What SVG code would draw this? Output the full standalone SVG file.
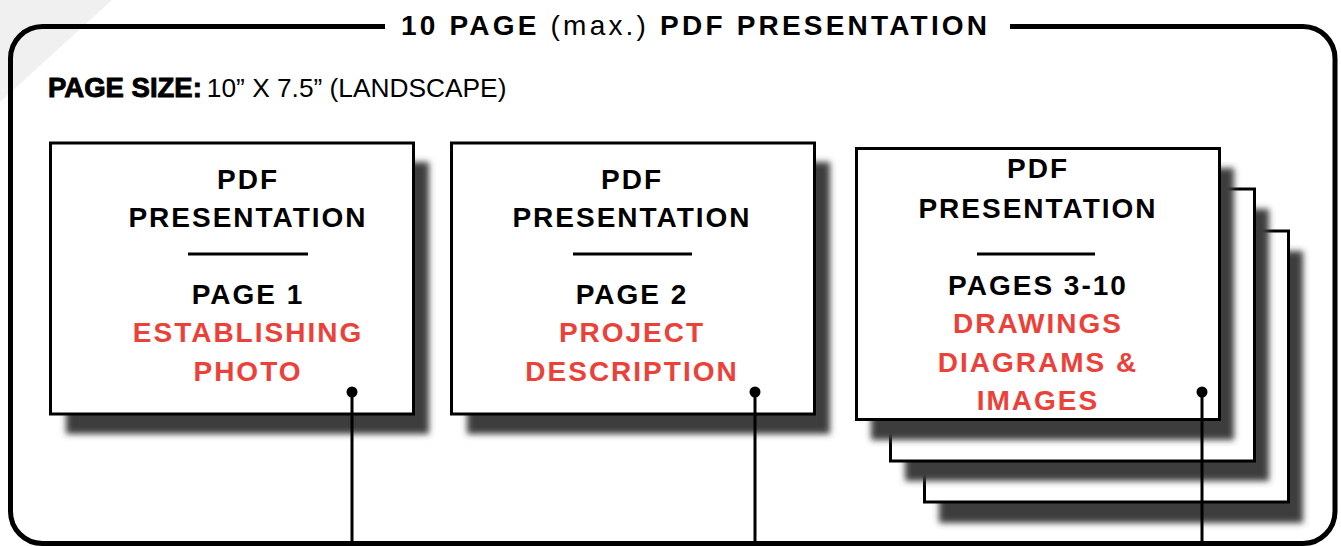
<svg xmlns="http://www.w3.org/2000/svg" width="1341" height="546" viewBox="0 0 1341 546">
  <style>
    .frame { fill: none; stroke: #000; stroke-width: 5; }
    .page { fill: #fff; stroke: #000; stroke-width: 3; }
    .shadow { fill: #3c3c3c; filter: url(#blur); }
    .t { font-family: "Liberation Sans", Arial, sans-serif; font-weight: bold; font-size: 28px; letter-spacing: 2px; text-anchor: middle; fill: #000; }
    .red { fill: #ec4139; }
    .div { stroke: #000; stroke-width: 3; }
    .title { font-family: "Liberation Sans", Arial, sans-serif; font-weight: bold; font-size: 28px; letter-spacing: 3.2px; fill: #000; }
    .conn line { stroke: #000; stroke-width: 3; }
    .conn circle { fill: #000; }
  </style>
  <defs>
    <filter id="blur" x="-10%" y="-10%" width="120%" height="120%">
      <feGaussianBlur stdDeviation="3"/>
    </filter>
  </defs>
  <rect width="1341" height="546" fill="#fff"/>
  <polygon points="0,0 112,0 0,102" fill="#f0f0f0"/>

  <g id="frame">
    <path class="frame" d="M385,26.5 H42.5 A32,32 0 0 0 10.5,58.5 V511.5 A32,32 0 0 0 42.5,543.5 H1303 A32,32 0 0 0 1335,511.5 V58.5 A32,32 0 0 0 1303,26.5 H1010"/>
    <text class="title" x="401" y="35">10 PAGE <tspan font-weight="normal">(max.)</tspan> PDF PRESENTATION</text>
  </g>

  <g id="page-size">
    <text x="48" y="97" font-family="'Liberation Sans', Arial, sans-serif" font-size="27.5" fill="#000"><tspan font-weight="bold" stroke="#000" stroke-width="0.9">PAGE SIZE:</tspan><tspan font-size="26.3" dx="5">10” X 7.5” (LANDSCAPE)</tspan></text>
  </g>

  <g id="page1">
    <rect class="shadow" x="66" y="162" width="363" height="272"/>
    <rect class="page" x="50.5" y="143" width="363" height="271"/>
    <text class="t" x="248" y="189">PDF</text>
    <text class="t" x="248" y="227">PRESENTATION</text>
    <line class="div" x1="188" y1="254" x2="308" y2="254"/>
    <text class="t" x="248" y="304">PAGE 1</text>
    <text class="t red" x="248" y="342">ESTABLISHING</text>
    <text class="t red" x="248" y="381">PHOTO</text>
  </g>

  <g id="page2">
    <rect class="shadow" x="467" y="162" width="363" height="272"/>
    <rect class="page" x="451.5" y="143" width="363" height="271"/>
    <text class="t" x="632" y="189">PDF</text>
    <text class="t" x="632" y="227">PRESENTATION</text>
    <line class="div" x1="573" y1="254" x2="692" y2="254"/>
    <text class="t" x="632" y="304">PAGE 2</text>
    <text class="t red" x="632" y="342">PROJECT</text>
    <text class="t red" x="632" y="381">DESCRIPTION</text>
  </g>

  <g id="pages3-10">
    <rect class="shadow" x="939" y="251" width="364" height="272"/>
    <rect class="page" x="924.5" y="231" width="364" height="271"/>
    <rect class="shadow" x="905" y="209" width="364" height="272"/>
    <rect class="page" x="890.5" y="189" width="364" height="272"/>
    <rect class="shadow" x="871" y="168" width="363" height="272"/>
    <rect class="page" x="856.5" y="148.5" width="363" height="271"/>
    <text class="t" x="1038" y="178">PDF</text>
    <text class="t" x="1038" y="218">PRESENTATION</text>
    <line class="div" x1="977" y1="254" x2="1095" y2="254"/>
    <text class="t" x="1038" y="295">PAGES 3-10</text>
    <text class="t red" x="1038" y="333">DRAWINGS</text>
    <text class="t red" x="1038" y="372">DIAGRAMS &amp;</text>
    <text class="t red" x="1038" y="410">IMAGES</text>
  </g>

  <g id="connectors" class="conn">
    <line x1="352" y1="392" x2="352" y2="546"/>
    <circle cx="352" cy="392" r="5.5"/>
    <line x1="755" y1="392" x2="755" y2="546"/>
    <circle cx="755" cy="392" r="5.5"/>
    <line x1="1202" y1="392" x2="1202" y2="546"/>
    <circle cx="1202" cy="392" r="5.5"/>
  </g>
</svg>
